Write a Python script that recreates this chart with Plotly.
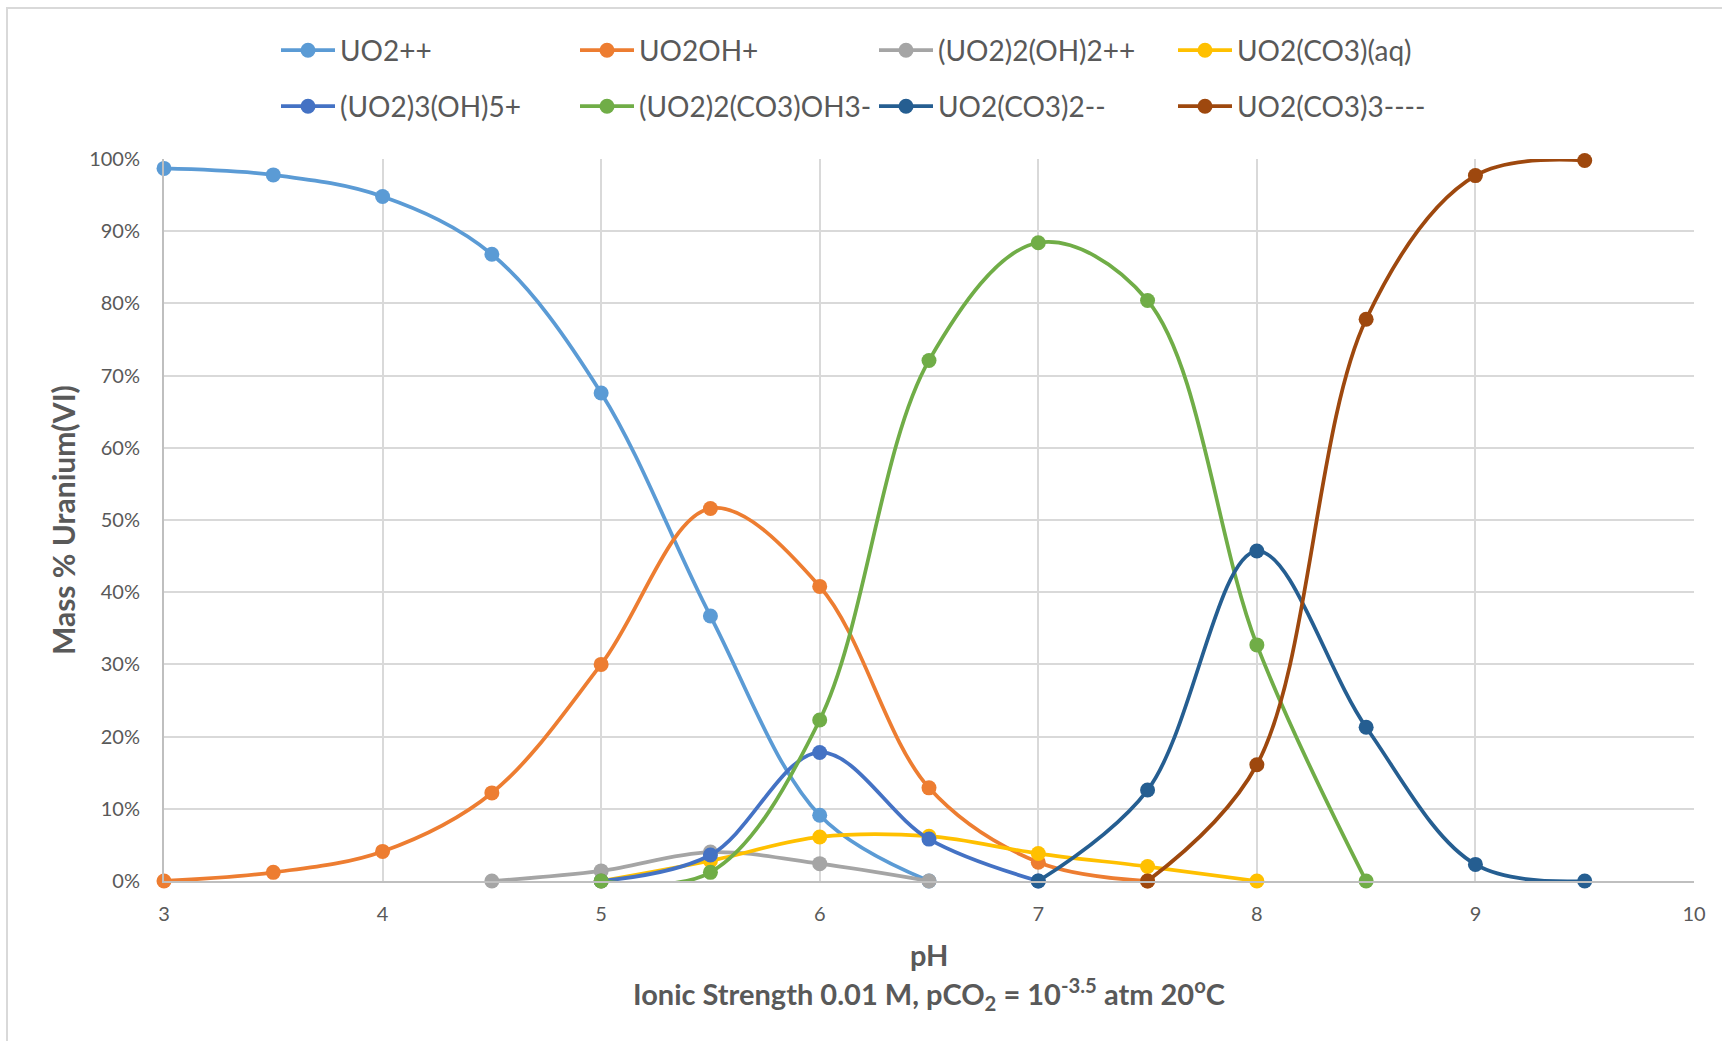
import plotly.graph_objects as go

# pH sample points
ph = [3.0, 3.5, 4.0, 4.5, 5.0, 5.5, 6.0, 6.5, 7.0, 7.5, 8.0, 8.5, 9.0, 9.5]

# Species distribution (mass % of U(VI)); None where the species is not reported
uo2 = [98.7, 97.8, 94.8, 86.8, 67.6, 36.7, 9.1, 0.0, None, None, None, None, None, None]
uo2oh = [0.0, 1.2, 4.1, 12.2, 30.0, 51.6, 40.8, 12.9, 2.6, 0.0, None, None, None, None]
uo2_2_oh_2 = [None, None, None, 0.0, 1.4, 4.0, 2.4, 0.0, None, None, None, None, None, None]
uo2co3_aq = [None, None, None, None, 0.0, 2.8, 6.1, 6.2, 3.8, 2.0, 0.0, None, None, None]
uo2_3_oh_5 = [None, None, None, None, 0.0, 3.6, 17.8, 5.8, 0.0, None, None, None, None, None]
uo2_2_co3_oh3 = [None, None, None, None, 0.0, 1.2, 22.3, 72.1, 88.4, 80.4, 32.7, 0.0, None, None]
uo2_co3_2 = [None, None, None, None, None, None, None, None, 0.0, 12.6, 45.7, 21.3, 2.3, 0.0]
uo2_co3_3 = [None, None, None, None, None, None, None, None, None, 0.0, 16.1, 77.8, 97.7, 99.8]

names = ["UO2++", "UO2OH+", "(UO2)2(OH)2++", "UO2(CO3)(aq)",
         "(UO2)3(OH)5+", "(UO2)2(CO3)OH3-", "UO2(CO3)2--", "UO2(CO3)3----"]
series = [uo2, uo2oh, uo2_2_oh_2, uo2co3_aq, uo2_3_oh_5, uo2_2_co3_oh3, uo2_co3_2, uo2_co3_3]
colors = ["#5B9BD5", "#ED7D31", "#A5A5A5", "#FFC000",
          "#4472C4", "#70AD47", "#255E91", "#9E480E"]

x_ticks = [3, 4, 5, 6, 7, 8, 9, 10]
y_ticks = [0, 10, 20, 30, 40, 50, 60, 70, 80, 90, 100]

W, H = 1722, 1041
L, R, T, B = 164, 28, 159, 160
pw, ph_px = W - L - R, H - T - B

FONT = "Lato"
TXT = "#595959"

fig = go.Figure()
for i, (name, ys, c) in enumerate(zip(names, series, colors)):
    xs = [x for x, y in zip(ph, ys) if y is not None]
    yv = [y for y in ys if y is not None]
    fig.add_trace(go.Scatter(
        x=xs, y=yv, name=name, mode="lines+markers",
        line=dict(color=c, width=3.75, shape="spline", smoothing=1.0),
        marker=dict(color=c, size=15, symbol="circle"),
        legend="legend" if i < 4 else "legend2",
        cliponaxis=False,
    ))

legend_common = dict(
    orientation="h", xref="container", yref="container",
    xanchor="left", yanchor="middle",
    font=dict(family=FONT, size=28, color=TXT),
    entrywidth=230, entrywidthmode="pixels",
    itemwidth=54, bgcolor="rgba(0,0,0,0)", traceorder="normal",
)

fig.update_layout(
    width=W, height=H,
    margin=dict(l=L, r=R, t=T, b=B),
    paper_bgcolor="white", plot_bgcolor="white",
    showlegend=True,
    legend=dict(x=276 / W, y=1 - 50.5 / H, **legend_common),
    legend2=dict(x=276 / W, y=1 - 106.5 / H, **legend_common),
    xaxis=dict(
        range=[3, 10], tickvals=x_ticks, ticktext=[str(v) for v in x_ticks],
        showgrid=True, gridcolor="#D9D9D9", gridwidth=2,
        showline=True, linecolor="#BFBFBF", linewidth=2,
        zeroline=False, ticks="", ticklabelstandoff=14,
        tickfont=dict(family=FONT, size=20, color=TXT),
    ),
    yaxis=dict(
        range=[0, 100], tickvals=y_ticks, ticktext=[f"{v}%" for v in y_ticks],
        showgrid=True, gridcolor="#D9D9D9", gridwidth=2,
        showline=True, linecolor="#BFBFBF", linewidth=2,
        zeroline=False, ticks="", ticklabelstandoff=18,
        tickfont=dict(family=FONT, size=20, color=TXT),
    ),
    annotations=[
        dict(text="<b>Mass % Uranium(VI)</b>", xref="paper", yref="paper",
             x=(63 - L) / pw, y=0.5, xanchor="center", yanchor="middle",
             textangle=-90, showarrow=False,
             font=dict(family=FONT, size=30, color=TXT)),
        dict(text="<b>pH</b>", xref="paper", yref="paper",
             x=0.5, y=-(955 - (T + ph_px)) / ph_px, xanchor="center", yanchor="middle",
             showarrow=False, font=dict(family=FONT, size=29, color=TXT)),
        dict(text="<b>Ionic Strength 0.01 M, pCO<sub>2</sub> = 10<sup>-3.5</sup> atm 20<sup>o</sup>C</b>",
             xref="paper", yref="paper",
             x=0.5, y=-(994 - (T + ph_px)) / ph_px, xanchor="center", yanchor="middle",
             showarrow=False, font=dict(family=FONT, size=29, color=TXT)),
    ],
    shapes=[
        # chart-area frame
        dict(type="rect", xref="paper", yref="paper",
             x0=(7 - L) / pw, x1=(W + 20 - L) / pw,
             y0=-(H + 20 - T - ph_px) / ph_px, y1=(T + ph_px - 8) / ph_px,
             line=dict(color="#D9D9D9", width=2), layer="below"),
    ],
)

fig.write_html("out.html")
